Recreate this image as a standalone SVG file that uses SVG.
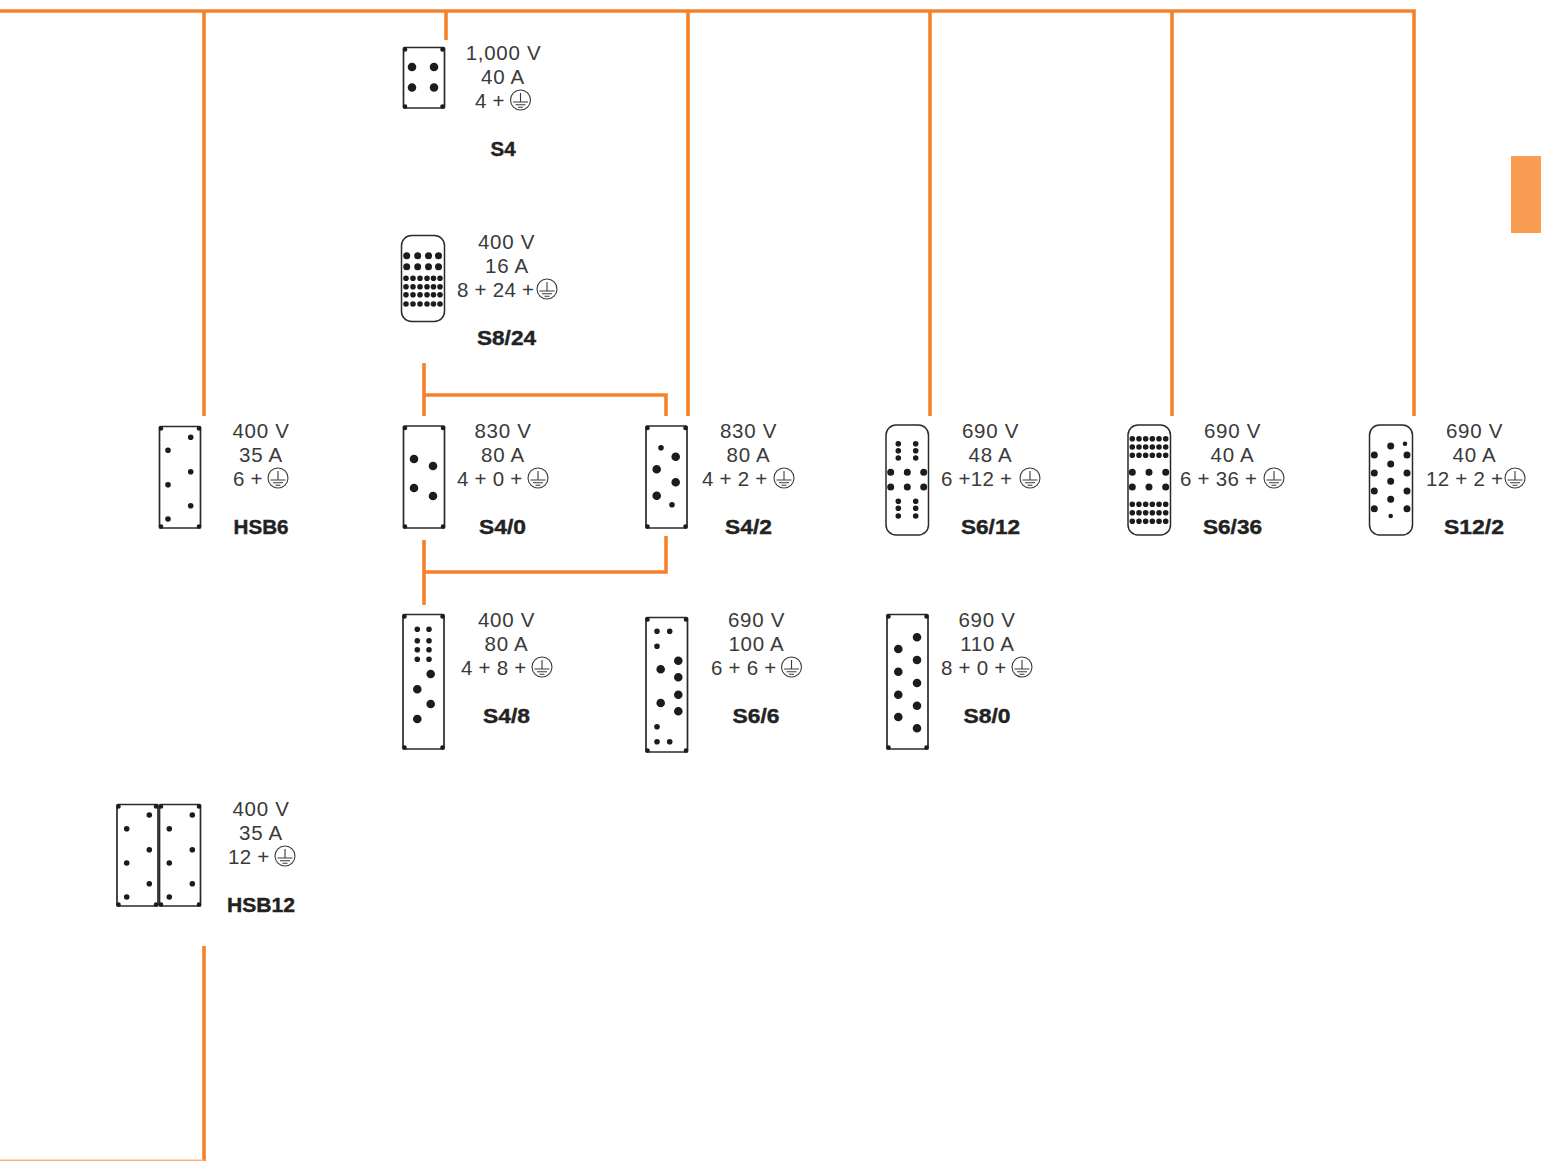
<svg xmlns="http://www.w3.org/2000/svg" width="1541" height="1161" viewBox="0 0 1541 1161">
<style>
text{font-family:"Liberation Sans",Arial,sans-serif;font-size:20.5px;fill:#3a3a3a;letter-spacing:.25px}
.c{text-anchor:middle;letter-spacing:.7px}
.n{font-weight:700;fill:#222;stroke:#222;stroke-width:.4;text-anchor:middle;font-size:20.5px;letter-spacing:0}
.w{fill:none;stroke:#f5822a;stroke-width:3.6}
.o{fill:#fff;stroke:#2a2a2a;stroke-width:1.5}
.f{fill:none;stroke:#2a2a2a;stroke-width:1.7}
.p{fill:none;stroke:#1c1c1c;stroke-linecap:round}
.l{stroke-width:8.6}.m{stroke-width:7}.s{stroke-width:5.6}.h{stroke-width:4.6}
.e{fill:none;stroke:#3a3a3a;stroke-width:1.1}
</style>
<defs>
<g id="earth"><circle class="e" r="10"/><path class="e" d="M0-7V2M-7.500 2H7.500M-5 4.800H5M-2.500 7.200H2.500"/></g>
</defs>
<rect id="tab" x="1511" y="156" width="30" height="77" fill="#f99d53"/>
<g id="connectors">
<path class="w" d="M0 11H1414V416M204 11V416M446 11V40M688 11V416M930 11V416M1172 11V416"/>
<path class="w" d="M424 363V416M424 395H666V416"/>
<path class="w" d="M424 540V605M424 572H666V536"/>
<path class="w" d="M204 946V1161"/>
<path d="M0 1160.300H204" stroke="#fbb57c" stroke-width="1.400" fill="none"/>
</g>
<g id="S4">
<rect class="f" x="403.500" y="47.500" width="41" height="60.500" rx="1"/>
<path class="p h" d="M405 49.500h0M442.500 49.500h0M405 106.500h0M442.500 106.500h0"/>
<path class="p l" d="M412 67h0M434 67h0M412 87.500h0M434 87.500h0"/>
<text class="c" x="503.500" y="60">1,000 V</text><text class="c" x="503" y="84">40 A</text><text x="475" y="108">4 +</text>
<use href="#earth" x="520.500" y="100"/><text class="n" x="503" y="156">S4</text>
</g>
<g id="S8-24">
<rect class="o" x="401.500" y="235.500" width="43" height="86" rx="10"/>
<path class="p m" d="M406.700 255.700h0M417.700 255.700h0M428.500 255.700h0M438.500 255.700h0M406.700 266.700h0M417.700 266.700h0M428.500 266.700h0M438.500 266.700h0"/>
<path class="p s" d="M406 278.300h0M413 278.300h0M420 278.300h0M427 278.300h0M433.500 278.300h0M440 278.300h0M406 286.700h0M413 286.700h0M420 286.700h0M427 286.700h0M433.500 286.700h0M440 286.700h0M406 294.700h0M413 294.700h0M420 294.700h0M427 294.700h0M433.500 294.700h0M440 294.700h0M406 304h0M413 304h0M420 304h0M427 304h0M433.500 304h0M440 304h0"/>
<text class="c" x="506.500" y="249">400 V</text><text class="c" x="507" y="273">16 A</text><text x="457" y="297">8 + 24 +</text>
<use href="#earth" x="547" y="289"/><text class="n" x="506.500" y="345" textLength="59" lengthAdjust="spacingAndGlyphs">S8/24</text>
</g>
<g id="HSB6">
<rect class="f" x="159.500" y="426.500" width="41" height="101.500" rx="1"/>
<path class="p h" d="M161 428.500h0M199 428.500h0M161 526.500h0M199 526.500h0"/>
<path class="p s" d="M190.700 437.300h0M168 450.300h0M190.700 471.700h0M168 484.700h0M190.700 505.700h0M168 519h0"/>
<text class="c" x="261" y="438">400 V</text><text class="c" x="261" y="462">35 A</text><text x="233" y="486">6 +</text>
<use href="#earth" x="278" y="478"/><text class="n" x="261" y="534" textLength="55" lengthAdjust="spacingAndGlyphs">HSB6</text>
</g>
<g id="S4-0">
<rect class="f" x="403.500" y="426" width="41" height="102" rx="1"/>
<path class="p h" d="M405 428h0M443 428h0M405 526.500h0M443 526.500h0"/>
<path class="p l" d="M414 459h0M433 466h0M414 488h0M433 496h0"/>
<text class="c" x="503" y="438">830 V</text><text class="c" x="503" y="462">80 A</text><text x="457" y="486">4 + 0 +</text>
<use href="#earth" x="538" y="478"/><text class="n" x="502.500" y="534" textLength="47" lengthAdjust="spacingAndGlyphs">S4/0</text>
</g>
<g id="S4-2">
<rect class="f" x="646" y="426" width="41" height="102" rx="1"/>
<path class="p h" d="M647.500 428h0M685.500 428h0M647.500 526.500h0M685.500 526.500h0"/>
<path class="p l" d="M675.700 456.700h0M656.700 469.300h0M675.700 482.300h0M656.700 495.700h0"/>
<path class="p s" d="M661 447.700h0M672 504.700h0"/>
<text class="c" x="748.500" y="438">830 V</text><text class="c" x="748.500" y="462">80 A</text><text x="702" y="486">4 + 2 +</text>
<use href="#earth" x="784" y="478"/><text class="n" x="748.500" y="534" textLength="47" lengthAdjust="spacingAndGlyphs">S4/2</text>
</g>
<g id="S6-12">
<rect class="o" x="886" y="425" width="42.500" height="110" rx="10"/>
<path class="p s" d="M898.300 443.700h0M915.700 443.700h0M898.300 450.700h0M915.700 450.700h0M898.300 458h0M915.700 458h0M898.300 501.300h0M915.700 501.300h0M898.300 508.300h0M915.700 508.300h0M898.300 516h0M915.700 516h0"/>
<path class="p m" d="M890.700 472.300h0M907.300 472.300h0M923.700 472.300h0M890.700 487h0M907.300 487h0M923.700 487h0"/>
<text class="c" x="990.500" y="438">690 V</text><text class="c" x="990.500" y="462">48 A</text><text x="941" y="486">6 +12 +</text>
<use href="#earth" x="1030" y="478"/><text class="n" x="990.500" y="534" textLength="59" lengthAdjust="spacingAndGlyphs">S6/12</text>
</g>
<g id="S6-36">
<rect class="o" x="1128" y="425" width="42.500" height="110" rx="10"/>
<path class="p s" d="M1132.300 438.700h33.400M1132.300 447h33.400M1132.300 455.300h33.400M1132.300 504.300h33.400M1132.300 512.700h33.400M1132.300 521.300h33.400" stroke-dasharray="0 6.680"/>
<path class="p m" d="M1132.300 472.300h0M1149 472.300h0M1165.700 472.300h0M1132.300 487h0M1149 487h0M1165.700 487h0"/>
<text class="c" x="1232.500" y="438">690 V</text><text class="c" x="1232.500" y="462">40 A</text><text x="1180" y="486">6 + 36 +</text>
<use href="#earth" x="1274" y="478"/><text class="n" x="1232.500" y="534" textLength="59" lengthAdjust="spacingAndGlyphs">S6/36</text>
</g>
<g id="S12-2">
<rect class="o" x="1369.500" y="425" width="43" height="110" rx="10"/>
<path class="p m" d="M1390.700 446h0M1374.300 455h0M1407 455h0M1390.700 464h0M1374.300 473h0M1407 473h0M1390.700 481.300h0M1374.300 491h0M1407 491h0M1390.700 499.300h0M1374.300 508.700h0M1407 508.700h0"/>
<path class="p h" d="M1405 443.700h0M1390.700 516h0"/>
<text class="c" x="1474.500" y="438">690 V</text><text class="c" x="1474.500" y="462">40 A</text><text x="1426" y="486" letter-spacing="0">12 + 2 +</text>
<use href="#earth" x="1515" y="478"/><text class="n" x="1474" y="534" textLength="60" lengthAdjust="spacingAndGlyphs">S12/2</text>
</g>
<g id="S4-8">
<rect class="f" x="403" y="614.500" width="41" height="134.500" rx="1"/>
<path class="p h" d="M404.500 616.500h0M442.500 616.500h0M404.500 747.500h0M442.500 747.500h0"/>
<path class="p s" d="M417.300 629.300h0M429 629.300h0M417.300 640.700h0M429 640.700h0M417.300 649.700h0M429 649.700h0M417.300 659.300h0M429 659.300h0"/>
<path class="p l" d="M430.700 674h0M417.300 689.300h0M430.700 704h0M417.300 719h0"/>
<text class="c" x="506.500" y="627">400 V</text><text class="c" x="506.500" y="651">80 A</text><text x="461" y="675">4 + 8 +</text>
<use href="#earth" x="542" y="667"/><text class="n" x="506.500" y="723" textLength="47" lengthAdjust="spacingAndGlyphs">S4/8</text>
</g>
<g id="S6-6">
<rect class="f" x="646" y="617.500" width="41.500" height="134.500" rx="1"/>
<path class="p h" d="M647.500 619.500h0M686 619.500h0M647.500 750.500h0M686 750.500h0"/>
<path class="p s" d="M657 631.300h0M669.700 631.300h0M657 646.300h0M657 726.700h0M657 741.700h0M669.700 741.700h0"/>
<path class="p l" d="M678.300 660.700h0M660.700 669.300h0M678.300 677.300h0M678.300 694.700h0M660.700 703h0M678.300 711.300h0"/>
<text class="c" x="756.500" y="627">690 V</text><text class="c" x="756.500" y="651">100 A</text><text x="711" y="675">6 + 6 +</text>
<use href="#earth" x="791.500" y="667"/><text class="n" x="756" y="723" textLength="47" lengthAdjust="spacingAndGlyphs">S6/6</text>
</g>
<g id="S8-0">
<rect class="f" x="887" y="614.500" width="41" height="134.500" rx="1"/>
<path class="p h" d="M888.500 616.500h0M926.500 616.500h0M888.500 747.500h0M926.500 747.500h0"/>
<path class="p l" d="M917 637.300h0M898.300 649h0M917 660h0M898.300 671.700h0M917 683h0M898.300 694.700h0M917 705.700h0M898.300 717h0M917 728.300h0"/>
<text class="c" x="987" y="627">690 V</text><text class="c" x="987.500" y="651">110 A</text><text x="941" y="675">8 + 0 +</text>
<use href="#earth" x="1022" y="667"/><text class="n" x="987" y="723" textLength="47" lengthAdjust="spacingAndGlyphs">S8/0</text>
</g>
<g id="HSB12">
<rect class="f" x="117" y="804.500" width="41" height="101.500" rx="1"/>
<rect class="f" x="159.500" y="804.500" width="41" height="101.500" rx="1"/>
<path class="p h" d="M118.500 806.500h0M156 806.500h0M161 806.500h0M199 806.500h0M118.500 904.500h0M156 904.500h0M161 904.500h0M199 904.500h0"/>
<path class="p s" d="M149.300 815h0M126.700 828.700h0M149.300 849.700h0M126.700 863h0M149.300 883.700h0M126.700 897h0M192.300 815h0M169.300 828.700h0M192.300 849.700h0M169.300 863h0M192.300 883.700h0M169.300 897h0"/>
<text class="c" x="261" y="816">400 V</text><text class="c" x="261" y="840">35 A</text><text x="228" y="864">12 +</text>
<use href="#earth" x="285" y="856"/><text class="n" x="261" y="912" textLength="68" lengthAdjust="spacingAndGlyphs">HSB12</text>
</g>
</svg>
